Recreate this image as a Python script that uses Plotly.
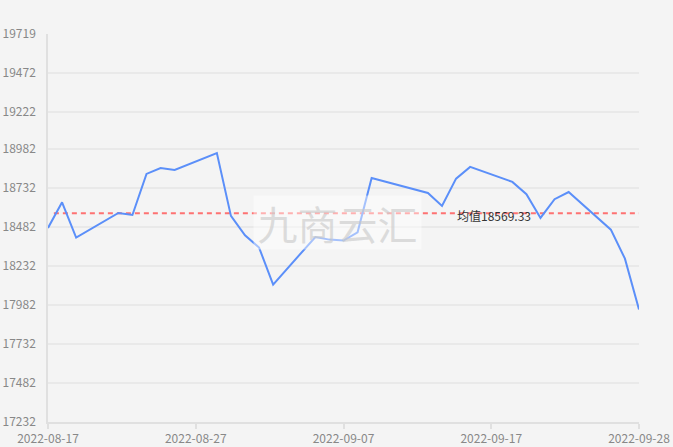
import plotly.graph_objects as go

dates = [
    "2022-08-17", "2022-08-18", "2022-08-19", "2022-08-22", "2022-08-23",
    "2022-08-24", "2022-08-25", "2022-08-26", "2022-08-29", "2022-08-30",
    "2022-08-31", "2022-09-01", "2022-09-02", "2022-09-05", "2022-09-06",
    "2022-09-07", "2022-09-08", "2022-09-09", "2022-09-13", "2022-09-14",
    "2022-09-15", "2022-09-16", "2022-09-19", "2022-09-20", "2022-09-21",
    "2022-09-22", "2022-09-23", "2022-09-26", "2022-09-27", "2022-09-28",
]
values = [
    18476, 18640, 18414, 18572, 18559,
    18822, 18860, 18847, 18956, 18553,
    18429, 18350, 18113, 18418, 18401,
    18395, 18448, 18796, 18700, 18617,
    18792, 18867, 18771, 18692, 18540,
    18660, 18706, 18465, 18279, 17953,
]
mean_value = 18569.33
mean_label = "均值18569.33"

y_ticks = [17232, 17482, 17732, 17982, 18232, 18482, 18732, 18982, 19222, 19472, 19719]
y_range = [17232, 19719]
x_tickvals = ["2022-08-17", "2022-08-27 12:00", "2022-09-07", "2022-09-17 12:00", "2022-09-28"]
x_ticktext = ["2022-08-17", "2022-08-27", "2022-09-07", "2022-09-17", "2022-09-28"]
x_range = ["2022-08-17", "2022-09-28"]
mean_line_start = "2022-08-17 10:00"
watermark = "九商云汇"

FONT = "Noto Sans CJK SC"
BG = "#f4f4f4"

fig = go.Figure()
fig.add_trace(go.Scatter(
    x=[mean_line_start, dates[-1]], y=[mean_value, mean_value], mode="lines",
    line=dict(color="rgba(255,90,90,0.85)", width=2, dash="5px,4px"),
    hoverinfo="skip", showlegend=False,
))
fig.add_trace(go.Scatter(
    x=dates, y=values, mode="lines",
    line=dict(color="#5B8FF9", width=2),
    showlegend=False,
))

fig.add_annotation(
    x="2022-09-17 16:00", y=mean_value, xref="x", yref="y",
    text=mean_label, showarrow=False, yshift=-2,
    font=dict(family=FONT, size=12, color="#333333"),
)
fig.add_annotation(
    x=0.49, y=0.513, xref="paper", yref="paper", text=watermark,
    showarrow=False, width=165, height=51,
    bgcolor="rgba(255,255,255,0.45)",
    font=dict(family=FONT, size=40, color="rgba(200,200,200,0.6)"),
)

fig.update_layout(
    width=673, height=447,
    margin=dict(l=48, r=34, t=34, b=25),
    paper_bgcolor=BG, plot_bgcolor=BG,
    font=dict(family=FONT, size=12, color="#888888"),
    xaxis=dict(
        type="date", range=x_range, tickvals=x_tickvals, ticktext=x_ticktext,
        showgrid=False, showline=True, linecolor="#e0e0e0", linewidth=1.5,
        ticks="outside", ticklen=5, tickcolor="#e0e0e0", tickwidth=1.5,
        tickfont=dict(family=FONT, size=12, color="#888888"),
        zeroline=False, automargin=False,
    ),
    yaxis=dict(
        range=y_range, tickvals=y_ticks, ticktext=[str(v) for v in y_ticks],
        showgrid=True, gridcolor="#e9e9e9", gridwidth=1.5,
        showline=True, linecolor="#e0e0e0", linewidth=1.5,
        ticks="", ticklabelstandoff=8,
        tickfont=dict(family=FONT, size=12, color="#888888"),
        zeroline=False, automargin=False,
    ),
)

fig.write_html(
    "out.html",
    config={"displayModeBar": False},
    post_script="document.body.style.margin='0';document.body.style.overflow='hidden';",
)
